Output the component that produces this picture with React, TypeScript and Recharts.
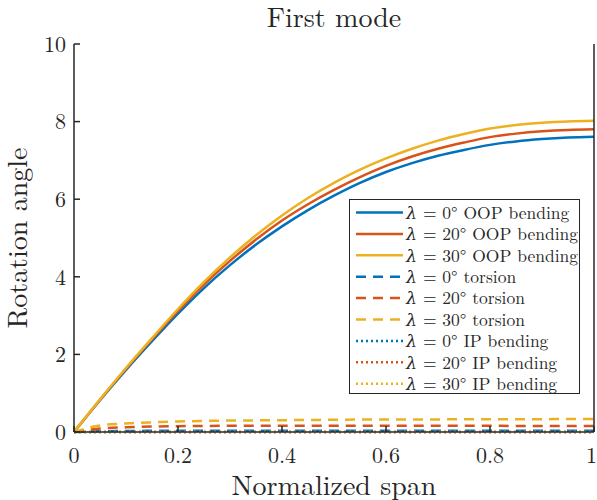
import React from 'react';
import { LineChart, Line, XAxis, YAxis, Legend, Label } from 'recharts';

const FONT = '"Latin Modern Roman", "CMU Serif", "DejaVu Serif", serif';
const AX = '#262626';

const spanPoints = [0, 0.05, 0.1, 0.15, 0.2, 0.25, 0.3, 0.35, 0.4, 0.45, 0.5, 0.55, 0.6, 0.65, 0.7, 0.75, 0.8, 0.85, 0.9, 0.95, 1];

const oop0 = [0, 0.82, 1.6, 2.34, 3.05, 3.71, 4.3, 4.83, 5.3, 5.72, 6.09, 6.42, 6.7, 6.93, 7.12, 7.27, 7.4, 7.49, 7.55, 7.59, 7.61];
const oop20 = [0, 0.83, 1.63, 2.39, 3.12, 3.8, 4.41, 4.96, 5.45, 5.87, 6.24, 6.57, 6.86, 7.1, 7.3, 7.46, 7.6, 7.69, 7.75, 7.785, 7.8];
const oop30 = [0, 0.84, 1.65, 2.42, 3.17, 3.87, 4.5, 5.07, 5.58, 6.03, 6.42, 6.76, 7.05, 7.3, 7.51, 7.68, 7.82, 7.91, 7.97, 8.005, 8.02];

const tor0 = [0, 0.02, 0.025, 0.03, 0.03, 0.03, 0.03, 0.03, 0.03, 0.03, 0.03, 0.03, 0.03, 0.03, 0.03, 0.03, 0.03, 0.03, 0.03, 0.03, 0.03];
const tor20 = [0, 0.09, 0.12, 0.14, 0.15, 0.155, 0.16, 0.16, 0.16, 0.16, 0.16, 0.16, 0.16, 0.16, 0.16, 0.16, 0.16, 0.155, 0.155, 0.155, 0.155];
const tor30 = [0, 0.17, 0.22, 0.25, 0.27, 0.285, 0.295, 0.3, 0.305, 0.31, 0.315, 0.32, 0.32, 0.325, 0.325, 0.33, 0.33, 0.33, 0.33, 0.335, 0.335];

const ip0 = [0, 0, 0, 0, 0, 0, 0, 0, 0, 0, 0, 0, 0, 0, 0, 0, 0, 0, 0, 0, 0];
const ip20 = [0, 0, 0, 0, 0, 0, 0, 0, 0, 0, 0, 0, 0, 0, 0, 0, 0, 0, 0, 0, 0];
const ip30 = [0, 0, 0, 0, 0, 0, 0, 0, 0, 0, 0, 0, 0, 0, 0, 0, 0, 0, 0, 0, 0];

const xTicks = [0, 0.2, 0.4, 0.6, 0.8, 1];
const yTicks = [0, 2, 4, 6, 8, 10];

const C0 = '#0072BD';
const C1 = '#D95319';
const C2 = '#EDB120';
const DASH = '10 7';
const DOT = '2 3';

const series = [
  { key: 'oop0', values: oop0, color: C0, dash: undefined, angle: '0', kind: 'OOP bending' },
  { key: 'oop20', values: oop20, color: C1, dash: undefined, angle: '20', kind: 'OOP bending' },
  { key: 'oop30', values: oop30, color: C2, dash: undefined, angle: '30', kind: 'OOP bending' },
  { key: 'tor0', values: tor0, color: C0, dash: DASH, angle: '0', kind: 'torsion' },
  { key: 'tor20', values: tor20, color: C1, dash: DASH, angle: '20', kind: 'torsion' },
  { key: 'tor30', values: tor30, color: C2, dash: DASH, angle: '30', kind: 'torsion' },
  { key: 'ip0', values: ip0, color: C0, dash: DOT, angle: '0', kind: 'IP bending' },
  { key: 'ip20', values: ip20, color: C1, dash: DOT, angle: '20', kind: 'IP bending' },
  { key: 'ip30', values: ip30, color: C2, dash: DOT, angle: '30', kind: 'IP bending' },
];

const data = spanPoints.map((x, i) => {
  const row: Record<string, number> = { x };
  series.forEach((s) => {
    row[s.key] = s.values[i];
  });
  return row;
});

const renderLegend = () => (
  <div
    style={{
      width: 231,
      height: 195,
      border: `1px solid ${AX}`,
      background: '#fff',
      boxSizing: 'border-box',
      overflow: 'visible',
    }}
  >
    <svg width={229} height={193} style={{ display: 'block', overflow: 'visible' }}>
      {series.map((s, i) => {
        const y = 12.5 + i * 21.4;
        return (
          <g key={s.key}>
            <line x1={6} x2={53} y1={y} y2={y} stroke={s.color} strokeWidth={2.5} strokeDasharray={s.dash} />
            <text x={56} y={y} dy="0.36em" fontSize={17.5} fontFamily={FONT} fill={AX}>
              <tspan fontStyle="italic">λ</tspan>
              {` = ${s.angle}° ${s.kind}`}
            </text>
          </g>
        );
      })}
    </svg>
  </div>
);

const tickStyle = { fontSize: 22, fill: AX, fontFamily: FONT };

export default function App() {
  return (
    <div style={{ position: 'absolute', left: 0, top: 0, width: 597, height: 500, background: '#fff' }}>
      <LineChart width={597} height={500} data={data} margin={{ top: 44, right: 0, bottom: 0, left: 0 }}>
        <XAxis
          xAxisId="b"
          dataKey="x"
          type="number"
          domain={[0, 1]}
          ticks={xTicks}
          tickFormatter={(v: number) => String(v)}
          height={68}
          tickSize={-6}
          tickMargin={21}
          stroke={AX}
          strokeWidth={1.5}
          tick={tickStyle}
          allowDataOverflow
        >
          <Label
            content={() => (
              <text x={334} y={495} textAnchor="middle" fontSize={28} fontFamily={FONT} fill={AX}>
                Normalized span
              </text>
            )}
          />
        </XAxis>
        <XAxis
          xAxisId="t"
          orientation="top"
          dataKey="x"
          type="number"
          domain={[0, 1]}
          ticks={xTicks}
          height={0}
          tickSize={-6}
          tick={false}
          stroke={AX}
          strokeWidth={1.5}
        />
        <YAxis
          yAxisId="l"
          type="number"
          domain={[0, 10]}
          ticks={yTicks}
          width={74}
          tickSize={-6}
          tickMargin={14}
          stroke={AX}
          strokeWidth={1.5}
          tick={tickStyle}
        >
          <Label
            content={() => (
              <g>
                <text
                  x={27}
                  y={238}
                  textAnchor="middle"
                  transform="rotate(-90 27 238)"
                  fontSize={28}
                  fontFamily={FONT}
                  fill={AX}
                >
                  Rotation angle
                </text>
                <text x={334} y={27} textAnchor="middle" fontSize={28} fontFamily={FONT} fill={AX}>
                  First mode
                </text>
              </g>
            )}
          />
        </YAxis>
        <YAxis
          yAxisId="r"
          orientation="right"
          type="number"
          domain={[0, 10]}
          ticks={yTicks}
          width={3}
          tickSize={-6}
          tick={false}
          stroke={AX}
          strokeWidth={1.5}
        />
        <Legend
          layout="vertical"
          align="center"
          verticalAlign="middle"
          content={renderLegend}
          wrapperStyle={{ position: 'absolute', left: 349, top: 199, width: 231, height: 195, overflow: 'visible' }}
        />
        {series.map((s) => (
          <Line
            key={s.key}
            xAxisId="b"
            yAxisId="l"
            type="monotone"
            dataKey={s.key}
            stroke={s.color}
            strokeWidth={2.5}
            strokeDasharray={s.dash}
            dot={false}
            activeDot={false}
            isAnimationActive={false}
          />
        ))}
      </LineChart>
    </div>
  );
}
